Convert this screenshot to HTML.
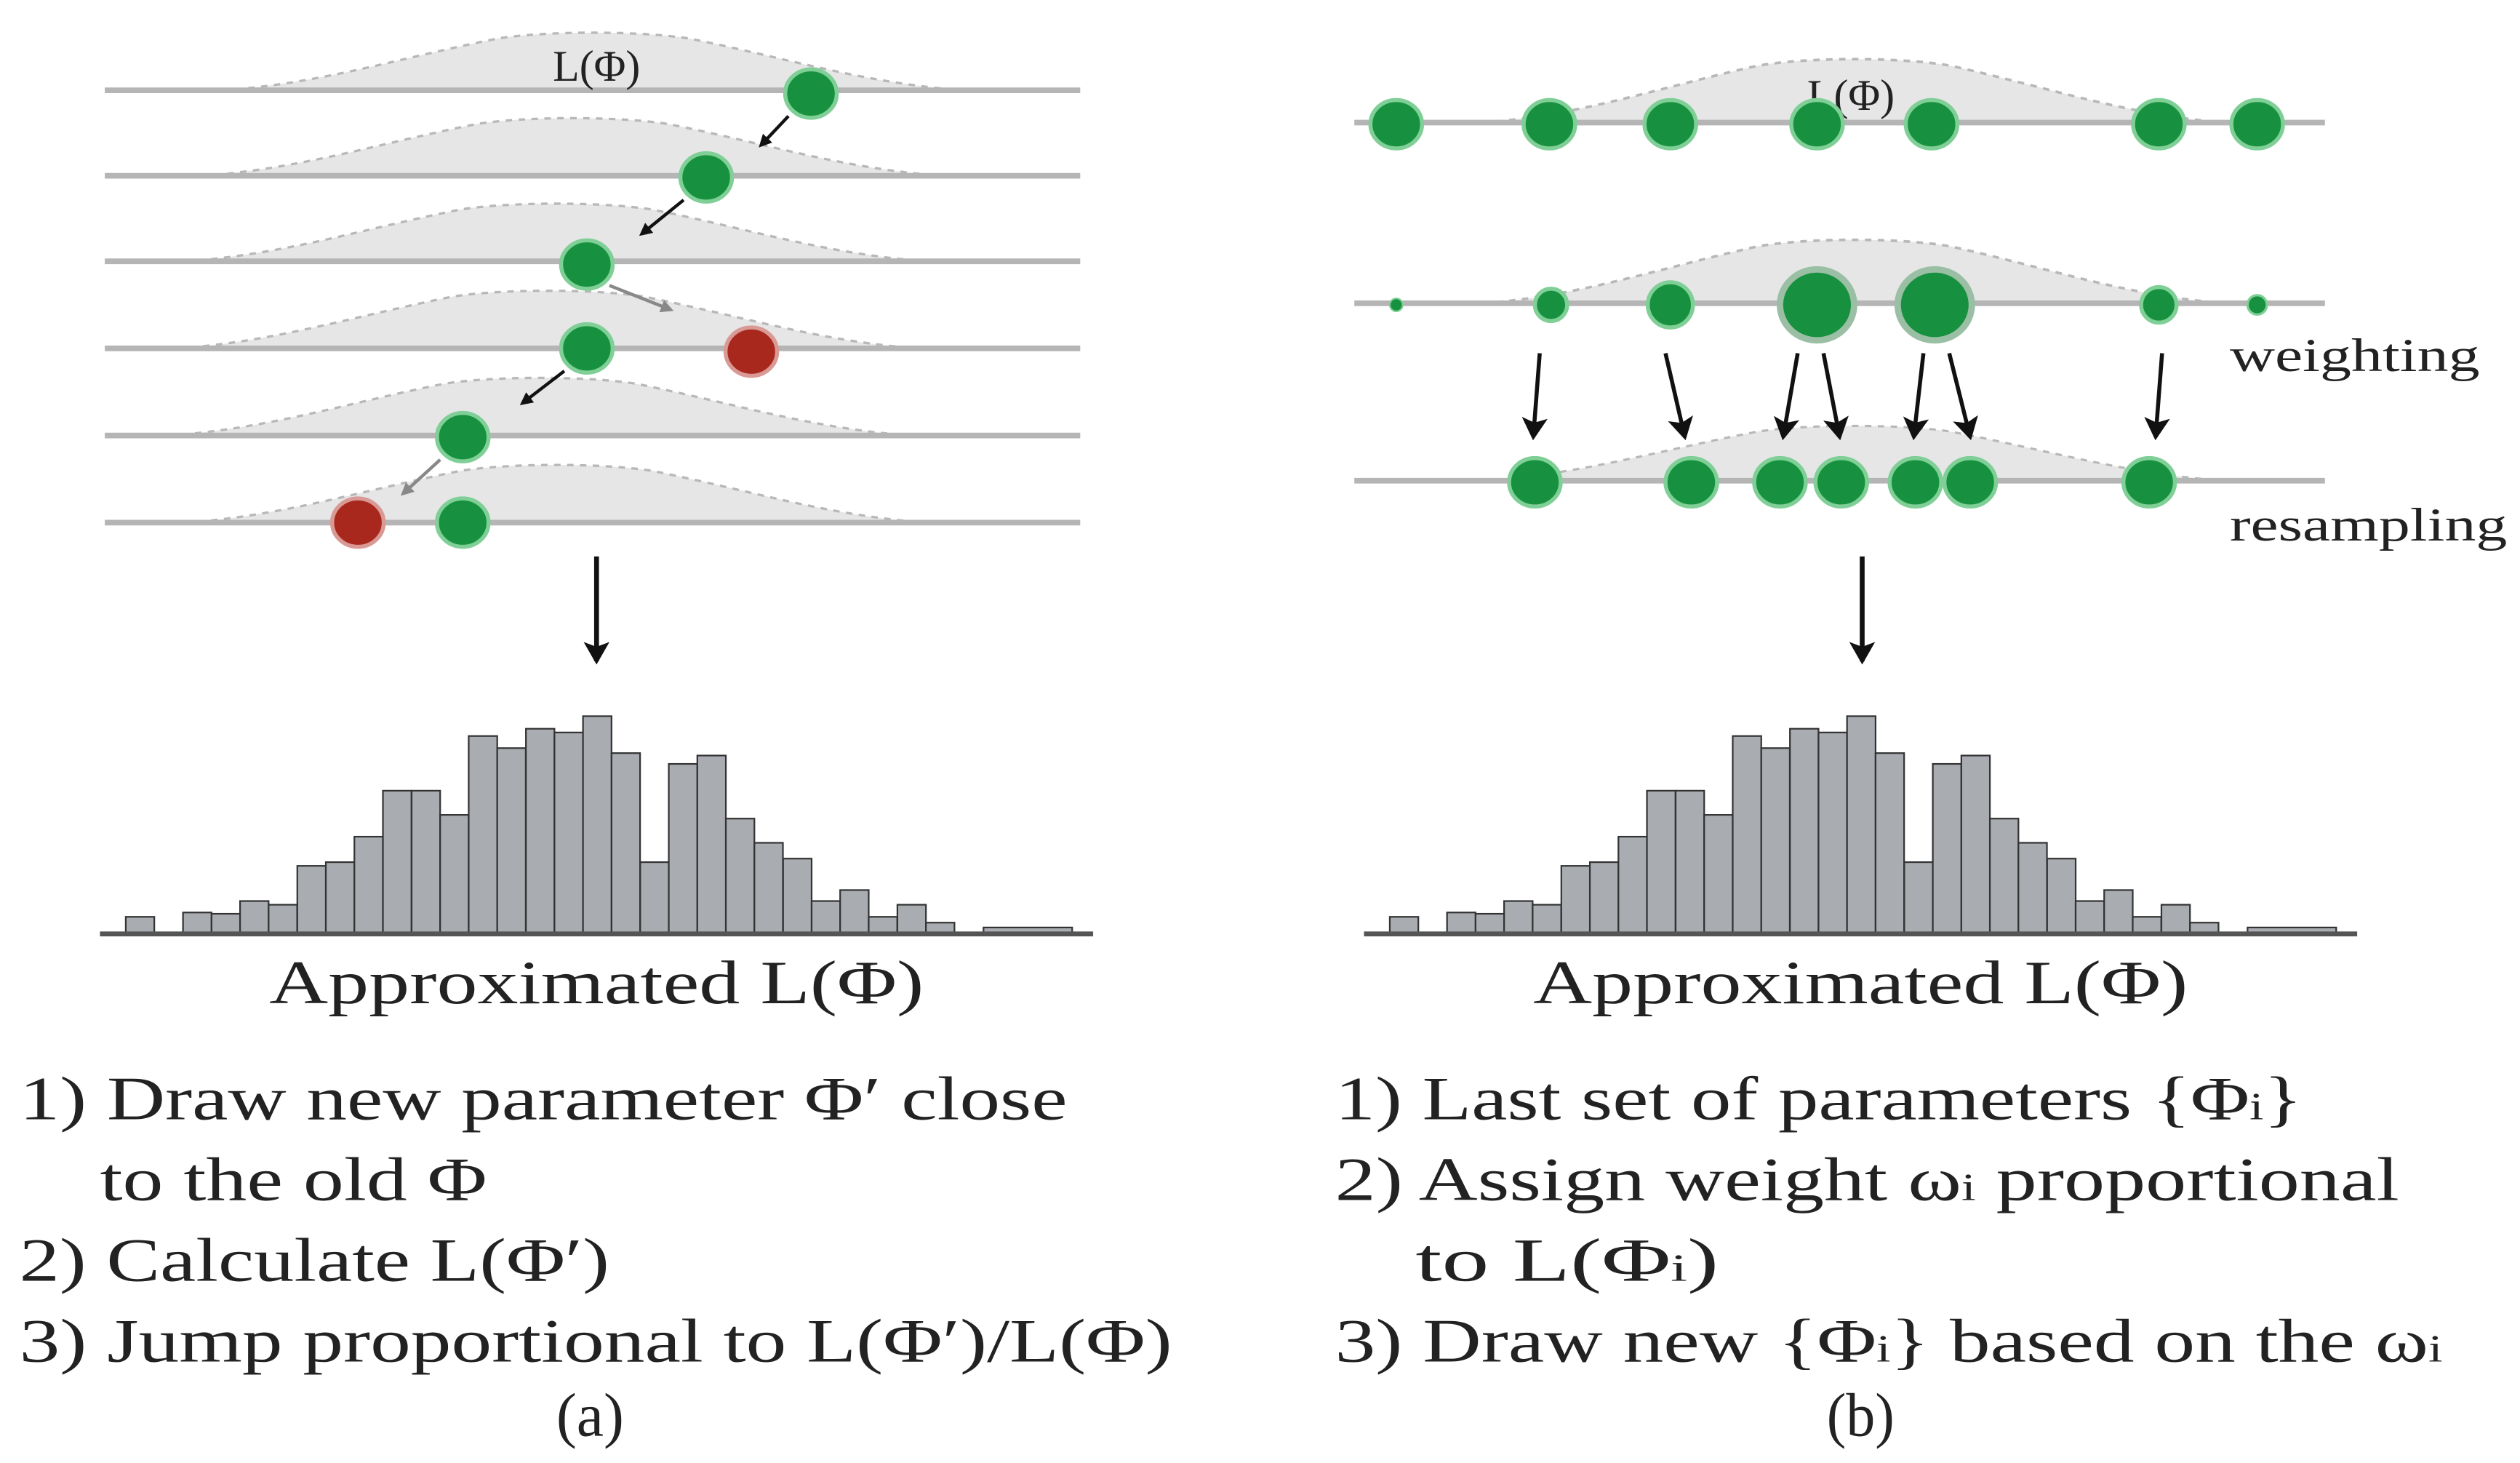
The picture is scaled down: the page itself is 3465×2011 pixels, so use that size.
<!DOCTYPE html>
<html><head><meta charset="utf-8"><style>
html,body{margin:0;padding:0;background:#fff;}
svg{display:block;}
text{font-family:"Liberation Serif",serif;fill:#222;}
</style></head><body>
<svg width="3465" height="2011" viewBox="0 0 1563 907" preserveAspectRatio="none" xmlns="http://www.w3.org/2000/svg">
<defs>
<marker id="ah" markerWidth="8" markerHeight="8" refX="6" refY="4" orient="auto" markerUnits="userSpaceOnUse"><path d="M0,0 L8,4 L0,8 z" fill="#111"/></marker>
<marker id="ahg" markerWidth="8" markerHeight="8" refX="6" refY="4" orient="auto" markerUnits="userSpaceOnUse"><path d="M0,0 L8,4 L0,8 z" fill="#888"/></marker>
<marker id="ahb" markerWidth="14" markerHeight="16" refX="12" refY="8" orient="auto" markerUnits="userSpaceOnUse"><path d="M0,0 L14,8 L0,16 L3,8 z" fill="#111"/></marker>
<path id="g" d="M-230,0 C-170,-4 -120,-20 -60,-32 C-30,-37 30,-37 60,-32 C120,-20 170,-4 230,0 Z"/>
</defs>

<!-- Left panel rows -->
<g fill="#e6e6e6" stroke="#b8b8b8" stroke-width="1.5" stroke-dasharray="4,4">
<use href="#g" x="368" y="56"/>
<use href="#g" x="355" y="109"/>
<use href="#g" x="345" y="162"/>
<use href="#g" x="340" y="216"/>
<use href="#g" x="335" y="270"/>
<use href="#g" x="345" y="324"/>
</g>
<g stroke="#b5b5b5" stroke-width="3.5">
<line x1="65" y1="56" x2="670" y2="56"/>
<line x1="65" y1="109" x2="670" y2="109"/>
<line x1="65" y1="162" x2="670" y2="162"/>
<line x1="65" y1="216" x2="670" y2="216"/>
<line x1="65" y1="270" x2="670" y2="270"/>
<line x1="65" y1="324" x2="670" y2="324"/>
</g>
<text x="370" y="50" font-size="27" text-anchor="middle">L(Φ)</text>
<g fill="#17913f" stroke="#7fcf97" stroke-width="2.5">
<ellipse cx="503" cy="58" rx="16" ry="15"/>
<ellipse cx="438" cy="110" rx="16" ry="15"/>
<ellipse cx="364" cy="164" rx="16" ry="15"/>
<ellipse cx="364" cy="216" rx="16" ry="15"/>
<ellipse cx="287" cy="271" rx="16" ry="15"/>
<ellipse cx="287" cy="324" rx="16" ry="15"/>
</g>
<g fill="#a8281e" stroke="#d99a95" stroke-width="2.5">
<ellipse cx="466" cy="218" rx="16" ry="15"/>
<ellipse cx="222" cy="324" rx="16" ry="15"/>
</g>
<g stroke-width="2">
<line x1="489" y1="72" x2="472" y2="90" stroke="#111" marker-end="url(#ah)"/>
<line x1="424" y1="124" x2="398" y2="145" stroke="#111" marker-end="url(#ah)"/>
<line x1="378" y1="177" x2="416" y2="192" stroke="#888" marker-end="url(#ahg)"/>
<line x1="350" y1="230" x2="324" y2="250" stroke="#111" marker-end="url(#ah)"/>
<line x1="273" y1="285" x2="250" y2="306" stroke="#888" marker-end="url(#ahg)"/>
</g>
<line x1="370" y1="345" x2="370" y2="410" stroke="#111" stroke-width="3" marker-end="url(#ahb)"/>

<!-- Right panel -->
<g fill="#e6e6e6" stroke="#b8b8b8" stroke-width="1.5" stroke-dasharray="4,4">
<use href="#g" transform="translate(1150 76) scale(1 1.1)"/>
<use href="#g" transform="translate(1150 188) scale(1 1.1)"/>
<use href="#g" transform="translate(1150 298) scale(1 0.95)"/>
</g>
<g stroke="#b5b5b5" stroke-width="3.5">
<line x1="840" y1="76" x2="1442" y2="76"/>
<line x1="840" y1="188" x2="1442" y2="188"/>
<line x1="840" y1="298" x2="1442" y2="298"/>
</g>
<text x="1148" y="68" font-size="27" text-anchor="middle">L(Φ)</text>
<g fill="#17913f" stroke="#7fcf97" stroke-width="2.5">
<ellipse cx="866" cy="77" rx="16" ry="15"/>
<ellipse cx="961" cy="77" rx="16" ry="15"/>
<ellipse cx="1036" cy="77" rx="16" ry="15"/>
<ellipse cx="1127" cy="77" rx="16" ry="15"/>
<ellipse cx="1198" cy="77" rx="16" ry="15"/>
<ellipse cx="1339" cy="77" rx="16" ry="15"/>
<ellipse cx="1400" cy="77" rx="16" ry="15"/>
<ellipse cx="866" cy="189" rx="4" ry="4" stroke-width="1"/>
<ellipse cx="962" cy="189" rx="10" ry="10"/>
<ellipse cx="1036" cy="189" rx="14" ry="14"/>
<ellipse cx="1127" cy="189" rx="23" ry="22" stroke="#9abfa5" stroke-width="4"/>
<ellipse cx="1200" cy="189" rx="23" ry="22" stroke="#9abfa5" stroke-width="4"/>
<ellipse cx="1339" cy="189" rx="11" ry="11"/>
<ellipse cx="1400" cy="189" rx="6" ry="6" stroke-width="1.5"/>
<ellipse cx="952" cy="299" rx="16" ry="15"/>
<ellipse cx="1049" cy="299" rx="16" ry="15"/>
<ellipse cx="1104" cy="299" rx="16" ry="15"/>
<ellipse cx="1142" cy="299" rx="16" ry="15"/>
<ellipse cx="1188" cy="299" rx="16" ry="15"/>
<ellipse cx="1222" cy="299" rx="16" ry="15"/>
<ellipse cx="1333" cy="299" rx="16" ry="15"/>
</g>
<g stroke="#111" stroke-width="2.5">
<line x1="955" y1="219" x2="951" y2="271" marker-end="url(#ahb)"/>
<line x1="1033" y1="219" x2="1045" y2="271" marker-end="url(#ahb)"/>
<line x1="1115" y1="219" x2="1106" y2="271" marker-end="url(#ahb)"/>
<line x1="1131" y1="219" x2="1141" y2="271" marker-end="url(#ahb)"/>
<line x1="1193" y1="219" x2="1187" y2="271" marker-end="url(#ahb)"/>
<line x1="1209" y1="219" x2="1222" y2="271" marker-end="url(#ahb)"/>
<line x1="1341" y1="219" x2="1337" y2="271" marker-end="url(#ahb)"/>
</g>
<text x="1383" y="230" font-size="29" textLength="155" lengthAdjust="spacingAndGlyphs">weighting</text>
<text x="1383" y="335" font-size="29" textLength="172" lengthAdjust="spacingAndGlyphs">resampling</text>
<line x1="1155" y1="345" x2="1155" y2="410" stroke="#111" stroke-width="3" marker-end="url(#ahb)"/>

<!-- Histograms -->
<g id="hist">
<g fill="#a9acb1" stroke="#333" stroke-width="1">
<rect x="78" y="568.4" width="17.7" height="10"/>
<rect x="113.5" y="565.7" width="17.7" height="13"/>
<rect x="131.2" y="566.5" width="17.7" height="12"/>
<rect x="148.9" y="558.6" width="17.7" height="20"/>
<rect x="166.6" y="560.9" width="17.7" height="18"/>
<rect x="184.4" y="536.8" width="17.7" height="42"/>
<rect x="202.1" y="534.5" width="17.7" height="44"/>
<rect x="219.8" y="518.7" width="17.7" height="60"/>
<rect x="237.5" y="490.2" width="17.7" height="89"/>
<rect x="255.3" y="490.2" width="17.7" height="89"/>
<rect x="273.0" y="505.2" width="17.7" height="74"/>
<rect x="290.7" y="456.3" width="17.7" height="123"/>
<rect x="308.4" y="463.8" width="17.7" height="115"/>
<rect x="326.2" y="451.8" width="17.7" height="127"/>
<rect x="343.9" y="454.1" width="17.7" height="125"/>
<rect x="361.6" y="444" width="17.7" height="135"/>
<rect x="379.3" y="466.9" width="17.7" height="112"/>
<rect x="397.1" y="534.5" width="17.7" height="44"/>
<rect x="414.8" y="473.6" width="17.7" height="105"/>
<rect x="432.5" y="468.4" width="17.7" height="110"/>
<rect x="450.2" y="507.5" width="17.7" height="71"/>
<rect x="467.9" y="522.5" width="17.7" height="56"/>
<rect x="485.7" y="532.3" width="17.7" height="46"/>
<rect x="503.4" y="558.6" width="17.7" height="20"/>
<rect x="521.1" y="551.8" width="17.7" height="27"/>
<rect x="538.8" y="568.4" width="17.7" height="10"/>
<rect x="556.6" y="560.9" width="17.7" height="18"/>
<rect x="574.3" y="572" width="17.7" height="7"/>
<rect x="610" y="575" width="55" height="4"/>
</g>
<line x1="62" y1="579" x2="678" y2="579" stroke="#555" stroke-width="3"/>
</g>
<use href="#hist" x="784" y="0"/>

<!-- Text -->
<g font-size="38">
<text x="167" y="622" textLength="406" lengthAdjust="spacingAndGlyphs">Approximated L(Φ)</text>
<text x="951" y="622" textLength="406" lengthAdjust="spacingAndGlyphs">Approximated L(Φ)</text>
<text x="12" y="694" textLength="650" lengthAdjust="spacingAndGlyphs">1) Draw new parameter Φ′ close</text>
<text x="62" y="744" textLength="240" lengthAdjust="spacingAndGlyphs">to the old Φ</text>
<text x="12" y="794" textLength="366" lengthAdjust="spacingAndGlyphs">2) Calculate L(Φ′)</text>
<text x="12" y="844" textLength="715" lengthAdjust="spacingAndGlyphs">3) Jump proportional to L(Φ′)/L(Φ)</text>
<text x="366" y="890" text-anchor="middle" textLength="42" lengthAdjust="spacingAndGlyphs">(a)</text>
<text x="828" y="694" textLength="600" lengthAdjust="spacingAndGlyphs">1) Last set of parameters {Φ<tspan font-size="24">i</tspan>}</text>
<text x="828" y="744" textLength="660" lengthAdjust="spacingAndGlyphs">2) Assign weight ω<tspan font-size="24">i</tspan> proportional</text>
<text x="878" y="794" textLength="188" lengthAdjust="spacingAndGlyphs">to L(Φ<tspan font-size="24">i</tspan>)</text>
<text x="828" y="844" textLength="687" lengthAdjust="spacingAndGlyphs">3) Draw new {Φ<tspan font-size="24">i</tspan>} based on the ω<tspan font-size="24">i</tspan></text>
<text x="1154" y="890" text-anchor="middle" textLength="42" lengthAdjust="spacingAndGlyphs">(b)</text>
</g>
</svg>
</body></html>
